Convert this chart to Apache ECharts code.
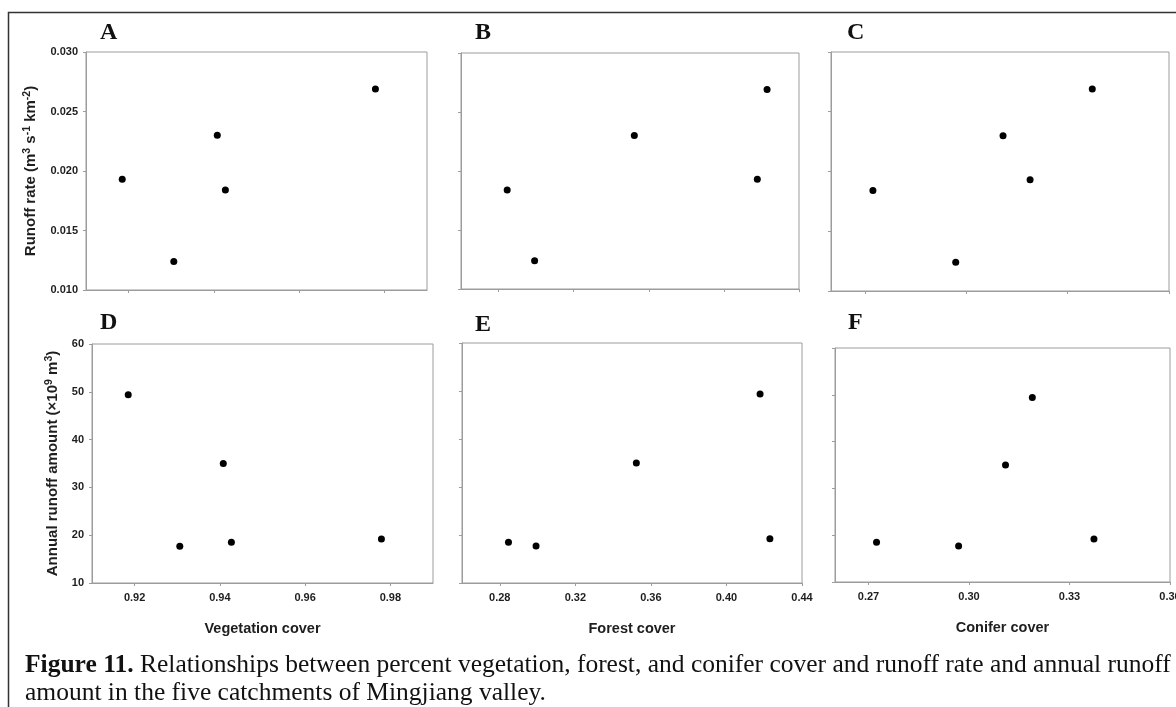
<!DOCTYPE html>
<html>
<head>
<meta charset="utf-8">
<script src="https://cdn.jsdelivr.net/npm/echarts@6/dist/echarts.min.js"></script>
<style>
html,body{margin:0;padding:0;background:#fff;}
#chart{width:1176px;height:707px;}
</style>
</head>
<body>
<div id="chart"></div>
<script>
// ---- data (five catchments) ----
const vegetationCover = [0.9185, 0.9306, 0.9408, 0.9427, 0.9779];
const forestCover     = [0.4178, 0.2992, 0.3523, 0.2846, 0.4230];
const coniferCover    = [0.3189, 0.2969, 0.3109, 0.2724, 0.3373];
const runoffRate      = [0.0193, 0.0124, 0.0230, 0.0184, 0.0269];
const runoffAmount    = [49.4, 17.7, 35.0, 18.5, 19.2];

// ---- tick labels ----
const vegetationTicks = [0.92, 0.94, 0.96, 0.98];
const forestTicks     = [0.28, 0.32, 0.36, 0.40, 0.44];
const coniferTicks    = [0.27, 0.30, 0.33, 0.36];
const rateTicks       = [0.010, 0.015, 0.020, 0.025, 0.030];
const amountTicks     = [10, 20, 30, 40, 50, 60];
const panelLetters    = ['A', 'B', 'C', 'D', 'E', 'F'];

const chart = echarts.init(document.getElementById('chart'), null, {renderer: 'canvas'});

const AXC = '#9c9c9c';
const LBL = '#1e1e1e';
const SANS = 'Liberation Sans, Arial, sans-serif';
const SERIF = 'Liberation Serif, Times New Roman, serif';

const grids = [
  {left: 86,  top: 52,  width: 341, height: 238},
  {left: 461, top: 53,  width: 338, height: 236},
  {left: 831, top: 52,  width: 338, height: 239},
  {left: 92,  top: 344, width: 341, height: 239},
  {left: 462, top: 343, width: 340, height: 240},
  {left: 835, top: 348, width: 335, height: 234}
];

const xDefs = [
  {min: 0.91, max: 0.99, ticks: vegetationTicks, dec: 2, name: 'Vegetation cover'},
  {min: 0.26, max: 0.44, ticks: forestTicks, dec: 2, name: 'Forest cover'},
  {min: 0.26, max: 0.36, ticks: coniferTicks, dec: 2, name: 'Conifer cover'}
];
const yDefs = [
  {min: 0.010, max: 0.030, ticks: rateTicks, dec: 3},
  {min: 10, max: 60, ticks: amountTicks, dec: 0}
];
const xData = [vegetationCover, forestCover, coniferCover];
const yData = [runoffRate, runoffAmount];

const rateName = '{n|Runoff rate (m}{s|3}{n| s}{s|-1}{n| km}{s|-2}{n|)}';
const amountName = '{n|Annual runoff amount (\u00d710}{s|9}{n| m}{s|3}{n|)}';
const nameRich = {
  n: {fontFamily: SANS, fontWeight: 'bold', fontSize: 15, color: LBL, lineHeight: 18},
  s: {fontFamily: SANS, fontWeight: 'bold', fontSize: 10.5, color: LBL, lineHeight: 18, verticalAlign: 'top', padding: [0,0,6,0]}
};

const xAxis = [], yAxis = [], series = [];
for (let i = 0; i < 6; i++) {
  const row = Math.floor(i / 3), col = i % 3;
  const xd = xDefs[col], yd = yDefs[row];
  xAxis.push({
    type: 'value', gridIndex: i, min: xd.min, max: xd.max,
    splitLine: {show: false},
    axisLine: {show: true, lineStyle: {color: AXC, width: 1}},
    axisTick: {show: true, length: 3, customValues: xd.ticks, lineStyle: {color: AXC}},
    axisLabel: {show: row === 1, customValues: xd.ticks, margin: 9,
      formatter: v => v.toFixed(xd.dec), hideOverlap: false,
      fontFamily: SANS, fontWeight: 'bold', fontSize: 11, color: LBL},
    name: row === 1 ? xd.name : '', nameLocation: 'middle', nameGap: 38,
    nameTextStyle: {fontFamily: SANS, fontWeight: 'bold', fontSize: 14.5, color: LBL}
  });
  yAxis.push({
    type: 'value', gridIndex: i, min: yd.min, max: yd.max,
    splitLine: {show: false},
    axisLine: {show: true, lineStyle: {color: AXC, width: 1}},
    axisTick: {show: true, length: 3, customValues: yd.ticks, lineStyle: {color: AXC}},
    axisLabel: {show: col === 0, customValues: yd.ticks, margin: 8,
      formatter: v => v.toFixed(yd.dec),
      fontFamily: SANS, fontWeight: 'bold', fontSize: 11, color: LBL},
    name: col === 0 ? (row === 0 ? rateName : amountName) : '',
    nameLocation: 'middle', nameGap: row === 0 ? 46 : 30,
    nameTextStyle: {rich: nameRich}
  });
  const pts = xData[col].map((x, k) => [x, yData[row][k]]);
  series.push({
    type: 'scatter', xAxisIndex: i, yAxisIndex: i, data: pts,
    symbol: 'circle', symbolSize: 7,
    itemStyle: {color: '#000', opacity: 1}, silent: true
  });
}

const letterPos = [[100,33],[475,33],[847,33],[100,323],[475,325],[848,323]];
const graphic = [
  {type: 'rect', shape: {x: 8.5, y: 12.5, width: 1300, height: 800},
   style: {fill: 'none', stroke: '#333', lineWidth: 1.5}, silent: true, z: 100}
];
panelLetters.forEach((t, i) => {
  graphic.push({type: 'text', x: letterPos[i][0], y: letterPos[i][1], silent: true,
    style: {text: t, font: 'bold 24px ' + SERIF, fill: '#111', textVerticalAlign: 'middle', textAlign: 'left'}});
});
graphic.push({type: 'text', x: 25, y: 665, silent: true,
  style: {text: '{b|Figure 11.}{r| Relationships between percent vegetation, forest, and conifer cover and runoff rate and annual runoff}',
    rich: {b: {fontFamily: SERIF, fontWeight: 'bold', fontSize: 25.5, fill: '#111'},
           r: {fontFamily: SERIF, fontSize: 25.5, fill: '#111'}},
    textVerticalAlign: 'middle', textAlign: 'left'}});
graphic.push({type: 'text', x: 25, y: 693, silent: true,
  style: {text: 'amount in the five catchments of Mingjiang valley.',
    font: '25.5px ' + SERIF, fill: '#111', textVerticalAlign: 'middle', textAlign: 'left'}});

chart.setOption({
  backgroundColor: '#fff',
  animation: false,
  grid: grids.map(g => Object.assign({show: true, borderColor: AXC, borderWidth: 1, backgroundColor: '#fff',
    containLabel: false, outerBoundsMode: 'none'}, g)),
  xAxis, yAxis, series, graphic
});
</script>
</body>
</html>
